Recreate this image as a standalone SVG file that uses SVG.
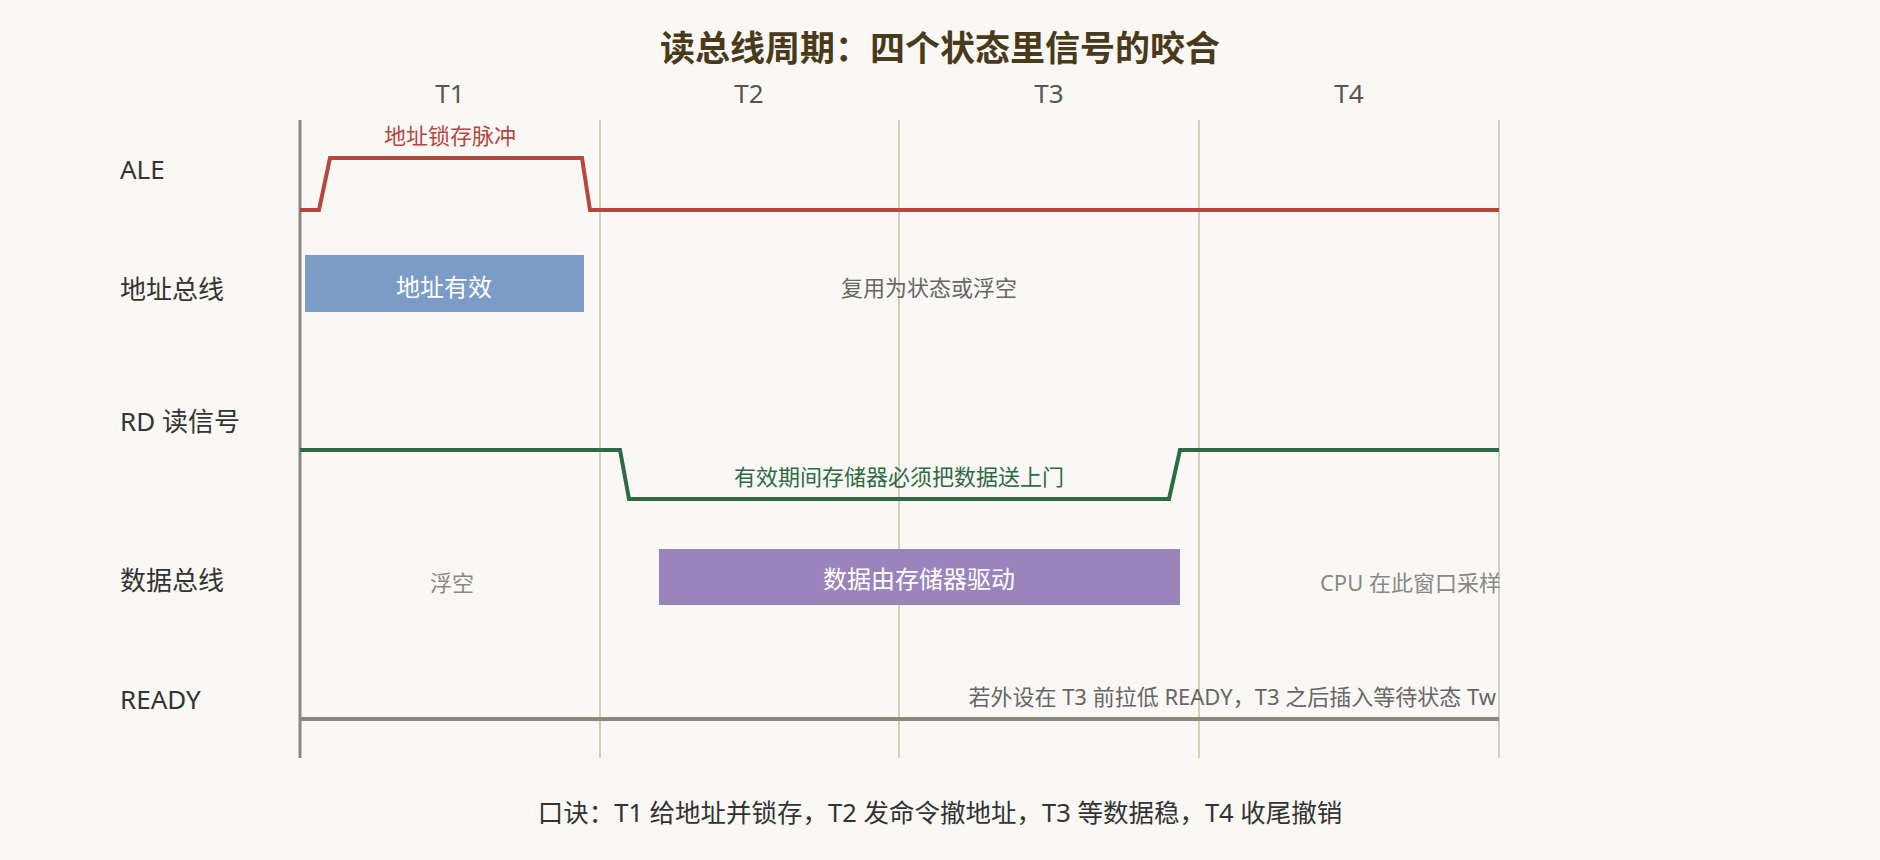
<svg xmlns="http://www.w3.org/2000/svg" width="1880" height="860" viewBox="0 0 1880 860">
<style>
text{font-family:"Noto Sans","Noto Sans CJK SC",sans-serif}
.t{font-size:35px;font-weight:bold;fill:#4a3a1c}
.ph{font-size:26px;fill:#555;text-anchor:middle}
.row{font-size:26px;fill:#333}
.sm{font-size:22px;text-anchor:middle}
.grid{stroke:#c9c2a8;stroke-width:1.5}
</style>
<rect width="1880" height="860" fill="#faf8f4"/>
<text class="t" x="940" y="61" text-anchor="middle">读总线周期：四个状态里信号的咬合</text>
<g id="phases">
<text class="ph" x="450" y="103">T1</text>
<text class="ph" x="749" y="103">T2</text>
<text class="ph" x="1049" y="103">T3</text>
<text class="ph" x="1349" y="103">T4</text>
<line class="grid" x1="600" y1="120" x2="600" y2="758"/>
<line class="grid" x1="899" y1="120" x2="899" y2="758"/>
<line class="grid" x1="1199" y1="120" x2="1199" y2="758"/>
<line class="grid" x1="1499" y1="120" x2="1499" y2="758"/>
<line x1="300" y1="120" x2="300" y2="758" stroke="#888" stroke-width="3"/>
</g>
<g id="labels">
<text class="row" x="120" y="179">ALE</text>
<text class="row" x="120" y="299">地址总线</text>
<text class="row" x="120" y="431">RD 读信号</text>
<text class="row" x="120" y="590">数据总线</text>
<text class="row" x="120" y="709">READY</text>
</g>
<g id="ale">
<polyline points="300,210 319,210 330,158 582,158 590,210 1499,210" fill="none" stroke="#b5473f" stroke-width="4"/>
<text class="sm" x="450" y="144" fill="#b5473f">地址锁存脉冲</text>
</g>
<g id="addr">
<rect x="305" y="255" width="279" height="57" fill="#7a9cc6"/>
<text x="444" y="296" font-size="24" fill="#fff" text-anchor="middle">地址有效</text>
<text class="sm" x="929" y="296" fill="#666">复用为状态或浮空</text>
</g>
<g id="rd">
<polyline points="300,450 620,450 629,499 1169,499 1180,450 1499,450" fill="none" stroke="#2e6b45" stroke-width="4"/>
<text class="sm" x="899" y="485" fill="#2e6b45">有效期间存储器必须把数据送上门</text>
</g>
<g id="data">
<text class="sm" x="452" y="591" fill="#888">浮空</text>
<rect x="659" y="549" width="521" height="56" fill="#9b84bb"/>
<text x="919" y="588" font-size="24" fill="#fff" text-anchor="middle">数据由存储器驱动</text>
<text x="1501" y="591" font-size="22" fill="#888" text-anchor="end">CPU 在此窗口采样</text>
</g>
<g id="ready">
<line x1="300" y1="719" x2="1499" y2="719" stroke="#8a8a7c" stroke-width="4"/>
<text x="1496" y="705" font-size="22" fill="#666" text-anchor="end">若外设在 T3 前拉低 READY，T3 之后插入等待状态 Tw</text>
</g>
<text x="940" y="822" font-size="25.5" fill="#333" text-anchor="middle">口诀：T1 给地址并锁存，T2 发命令撤地址，T3 等数据稳，T4 收尾撤销</text>
</svg>
